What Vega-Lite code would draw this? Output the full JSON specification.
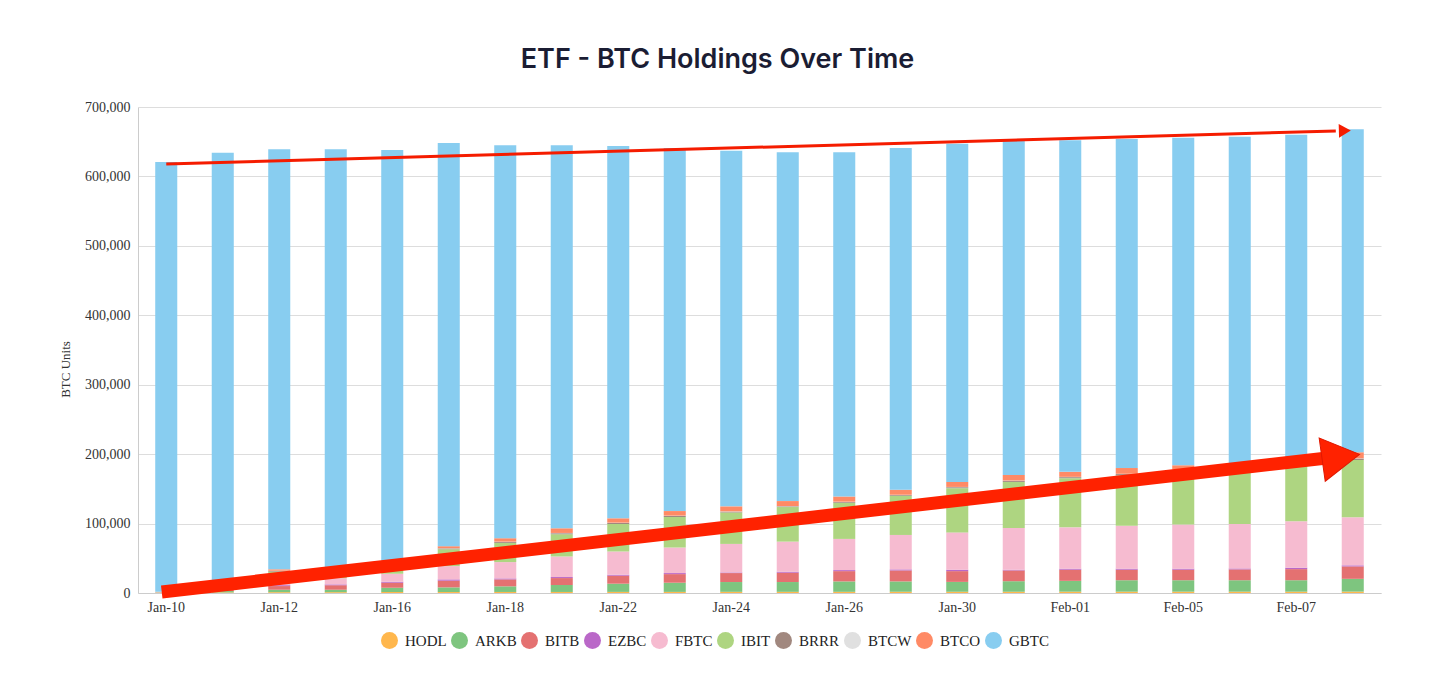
{
  "$schema": "https://vega.github.io/schema/vega-lite/v6.json",
  "width": 1243,
  "height": 486,
  "autosize": {"type": "none"},
  "padding": {"left": 138, "top": 107, "right": 75, "bottom": 98},
  "background": "white",
  "title": {
    "text": "ETF - BTC Holdings Over Time",
    "font": "Inter",
    "fontSize": 27,
    "fontWeight": 600,
    "color": "#1b1d33",
    "anchor": "middle",
    "frame": "group",
    "offset": 26,
    "dx": -42
  },
  "config": {
    "view": {"stroke": null},
    "axis": {
      "labelFont": "Liberation Serif",
      "labelFontSize": 14,
      "labelColor": "#333333",
      "titleFont": "Liberation Serif",
      "titleFontSize": 13,
      "titleFontWeight": "normal",
      "titleColor": "#333333",
      "ticks": false,
      "domainColor": "#cccccc",
      "gridColor": "#dddddd"
    },
    "axisY": {"labelExpr": "format(datum.value, ',')"}
  },
  "datasets": {
    "etfs": [
      {"etf": "HODL", "stack": 1}, {"etf": "ARKB", "stack": 2}, {"etf": "BITB", "stack": 3}, {"etf": "EZBC", "stack": 4}, {"etf": "FBTC", "stack": 5},
      {"etf": "IBIT", "stack": 6}, {"etf": "BRRR", "stack": 7}, {"etf": "BTCW", "stack": 8}, {"etf": "BTCO", "stack": 9}, {"etf": "GBTC", "stack": 10}
    ],
    "holdings": [
      {"date": "Jan-10", "etf": "HODL", "btc": 500}, {"date": "Jan-10", "etf": "ARKB", "btc": 300}, {"date": "Jan-10", "etf": "BITB", "btc": 200}, {"date": "Jan-10", "etf": "EZBC", "btc": 100}, {"date": "Jan-10", "etf": "FBTC", "btc": 200}, {"date": "Jan-10", "etf": "IBIT", "btc": 300}, {"date": "Jan-10", "etf": "BRRR", "btc": 50}, {"date": "Jan-10", "etf": "BTCW", "btc": 50}, {"date": "Jan-10", "etf": "BTCO", "btc": 100}, {"date": "Jan-10", "etf": "GBTC", "btc": 619000},
      {"date": "Jan-11", "etf": "HODL", "btc": 800}, {"date": "Jan-11", "etf": "ARKB", "btc": 2000}, {"date": "Jan-11", "etf": "BITB", "btc": 3000}, {"date": "Jan-11", "etf": "EZBC", "btc": 400}, {"date": "Jan-11", "etf": "FBTC", "btc": 3000}, {"date": "Jan-11", "etf": "IBIT", "btc": 8000}, {"date": "Jan-11", "etf": "BRRR", "btc": 300}, {"date": "Jan-11", "etf": "BTCW", "btc": 200}, {"date": "Jan-11", "etf": "BTCO", "btc": 600}, {"date": "Jan-11", "etf": "GBTC", "btc": 615700},
      {"date": "Jan-12", "etf": "HODL", "btc": 1200}, {"date": "Jan-12", "etf": "ARKB", "btc": 3500}, {"date": "Jan-12", "etf": "BITB", "btc": 5300}, {"date": "Jan-12", "etf": "EZBC", "btc": 1300}, {"date": "Jan-12", "etf": "FBTC", "btc": 5000}, {"date": "Jan-12", "etf": "IBIT", "btc": 14500}, {"date": "Jan-12", "etf": "BRRR", "btc": 1000}, {"date": "Jan-12", "etf": "BTCW", "btc": 300}, {"date": "Jan-12", "etf": "BTCO", "btc": 2000}, {"date": "Jan-12", "etf": "GBTC", "btc": 604900},
      {"date": "Jan-15", "etf": "HODL", "btc": 1200}, {"date": "Jan-15", "etf": "ARKB", "btc": 3500}, {"date": "Jan-15", "etf": "BITB", "btc": 6500}, {"date": "Jan-15", "etf": "EZBC", "btc": 1200}, {"date": "Jan-15", "etf": "FBTC", "btc": 9000}, {"date": "Jan-15", "etf": "IBIT", "btc": 13000}, {"date": "Jan-15", "etf": "BRRR", "btc": 500}, {"date": "Jan-15", "etf": "BTCW", "btc": 300}, {"date": "Jan-15", "etf": "BTCO", "btc": 1000}, {"date": "Jan-15", "etf": "GBTC", "btc": 602800},
      {"date": "Jan-16", "etf": "HODL", "btc": 1400}, {"date": "Jan-16", "etf": "ARKB", "btc": 6200}, {"date": "Jan-16", "etf": "BITB", "btc": 7200}, {"date": "Jan-16", "etf": "EZBC", "btc": 1500}, {"date": "Jan-16", "etf": "FBTC", "btc": 11400}, {"date": "Jan-16", "etf": "IBIT", "btc": 13900}, {"date": "Jan-16", "etf": "BRRR", "btc": 1400}, {"date": "Jan-16", "etf": "BTCW", "btc": 400}, {"date": "Jan-16", "etf": "BTCO", "btc": 3400}, {"date": "Jan-16", "etf": "GBTC", "btc": 591200},
      {"date": "Jan-17", "etf": "HODL", "btc": 1400}, {"date": "Jan-17", "etf": "ARKB", "btc": 6700}, {"date": "Jan-17", "etf": "BITB", "btc": 9600}, {"date": "Jan-17", "etf": "EZBC", "btc": 1900}, {"date": "Jan-17", "etf": "FBTC", "btc": 19100}, {"date": "Jan-17", "etf": "IBIT", "btc": 24300}, {"date": "Jan-17", "etf": "BRRR", "btc": 1200}, {"date": "Jan-17", "etf": "BTCW", "btc": 300}, {"date": "Jan-17", "etf": "BTCO", "btc": 2900}, {"date": "Jan-17", "etf": "GBTC", "btc": 580600},
      {"date": "Jan-18", "etf": "HODL", "btc": 1500}, {"date": "Jan-18", "etf": "ARKB", "btc": 8100}, {"date": "Jan-18", "etf": "BITB", "btc": 10000}, {"date": "Jan-18", "etf": "EZBC", "btc": 1400}, {"date": "Jan-18", "etf": "FBTC", "btc": 23500}, {"date": "Jan-18", "etf": "IBIT", "btc": 27700}, {"date": "Jan-18", "etf": "BRRR", "btc": 1500}, {"date": "Jan-18", "etf": "BTCW", "btc": 300}, {"date": "Jan-18", "etf": "BTCO", "btc": 4900}, {"date": "Jan-18", "etf": "GBTC", "btc": 566100},
      {"date": "Jan-19", "etf": "HODL", "btc": 1500}, {"date": "Jan-19", "etf": "ARKB", "btc": 10000}, {"date": "Jan-19", "etf": "BITB", "btc": 10000}, {"date": "Jan-19", "etf": "EZBC", "btc": 1500}, {"date": "Jan-19", "etf": "FBTC", "btc": 29600}, {"date": "Jan-19", "etf": "IBIT", "btc": 32000}, {"date": "Jan-19", "etf": "BRRR", "btc": 1500}, {"date": "Jan-19", "etf": "BTCW", "btc": 400}, {"date": "Jan-19", "etf": "BTCO", "btc": 6700}, {"date": "Jan-19", "etf": "GBTC", "btc": 551800},
      {"date": "Jan-22", "etf": "HODL", "btc": 1600}, {"date": "Jan-22", "etf": "ARKB", "btc": 11800}, {"date": "Jan-22", "etf": "BITB", "btc": 11500}, {"date": "Jan-22", "etf": "EZBC", "btc": 1400}, {"date": "Jan-22", "etf": "FBTC", "btc": 33500}, {"date": "Jan-22", "etf": "IBIT", "btc": 39600}, {"date": "Jan-22", "etf": "BRRR", "btc": 1500}, {"date": "Jan-22", "etf": "BTCW", "btc": 400}, {"date": "Jan-22", "etf": "BTCO", "btc": 6300}, {"date": "Jan-22", "etf": "GBTC", "btc": 536400},
      {"date": "Jan-23", "etf": "HODL", "btc": 1600}, {"date": "Jan-23", "etf": "ARKB", "btc": 13200}, {"date": "Jan-23", "etf": "BITB", "btc": 12400}, {"date": "Jan-23", "etf": "EZBC", "btc": 1500}, {"date": "Jan-23", "etf": "FBTC", "btc": 36800}, {"date": "Jan-23", "etf": "IBIT", "btc": 44000}, {"date": "Jan-23", "etf": "BRRR", "btc": 1500}, {"date": "Jan-23", "etf": "BTCW", "btc": 400}, {"date": "Jan-23", "etf": "BTCO", "btc": 6600}, {"date": "Jan-23", "etf": "GBTC", "btc": 523000},
      {"date": "Jan-24", "etf": "HODL", "btc": 1700}, {"date": "Jan-24", "etf": "ARKB", "btc": 14100}, {"date": "Jan-24", "etf": "BITB", "btc": 12900}, {"date": "Jan-24", "etf": "EZBC", "btc": 900}, {"date": "Jan-24", "etf": "FBTC", "btc": 41100}, {"date": "Jan-24", "etf": "IBIT", "btc": 45300}, {"date": "Jan-24", "etf": "BRRR", "btc": 1200}, {"date": "Jan-24", "etf": "BTCW", "btc": 400}, {"date": "Jan-24", "etf": "BTCO", "btc": 7200}, {"date": "Jan-24", "etf": "GBTC", "btc": 512200},
      {"date": "Jan-25", "etf": "HODL", "btc": 1700}, {"date": "Jan-25", "etf": "ARKB", "btc": 14100}, {"date": "Jan-25", "etf": "BITB", "btc": 13400}, {"date": "Jan-25", "etf": "EZBC", "btc": 1400}, {"date": "Jan-25", "etf": "FBTC", "btc": 43400}, {"date": "Jan-25", "etf": "IBIT", "btc": 49800}, {"date": "Jan-25", "etf": "BRRR", "btc": 1000}, {"date": "Jan-25", "etf": "BTCW", "btc": 400}, {"date": "Jan-25", "etf": "BTCO", "btc": 7200}, {"date": "Jan-25", "etf": "GBTC", "btc": 502600},
      {"date": "Jan-26", "etf": "HODL", "btc": 1700}, {"date": "Jan-26", "etf": "ARKB", "btc": 15000}, {"date": "Jan-26", "etf": "BITB", "btc": 14800}, {"date": "Jan-26", "etf": "EZBC", "btc": 1500}, {"date": "Jan-26", "etf": "FBTC", "btc": 44900}, {"date": "Jan-26", "etf": "IBIT", "btc": 52100}, {"date": "Jan-26", "etf": "BRRR", "btc": 1100}, {"date": "Jan-26", "etf": "BTCW", "btc": 400}, {"date": "Jan-26", "etf": "BTCO", "btc": 7500}, {"date": "Jan-26", "etf": "GBTC", "btc": 496000},
      {"date": "Jan-29", "etf": "HODL", "btc": 1800}, {"date": "Jan-29", "etf": "ARKB", "btc": 14900}, {"date": "Jan-29", "etf": "BITB", "btc": 15800}, {"date": "Jan-29", "etf": "EZBC", "btc": 1500}, {"date": "Jan-29", "etf": "FBTC", "btc": 49600}, {"date": "Jan-29", "etf": "IBIT", "btc": 56400}, {"date": "Jan-29", "etf": "BRRR", "btc": 1100}, {"date": "Jan-29", "etf": "BTCW", "btc": 400}, {"date": "Jan-29", "etf": "BTCO", "btc": 7200}, {"date": "Jan-29", "etf": "GBTC", "btc": 492300},
      {"date": "Jan-30", "etf": "HODL", "btc": 1800}, {"date": "Jan-30", "etf": "ARKB", "btc": 14200}, {"date": "Jan-30", "etf": "BITB", "btc": 15500}, {"date": "Jan-30", "etf": "EZBC", "btc": 2000}, {"date": "Jan-30", "etf": "FBTC", "btc": 53800}, {"date": "Jan-30", "etf": "IBIT", "btc": 63700}, {"date": "Jan-30", "etf": "BRRR", "btc": 1400}, {"date": "Jan-30", "etf": "BTCW", "btc": 400}, {"date": "Jan-30", "etf": "BTCO", "btc": 7200}, {"date": "Jan-30", "etf": "GBTC", "btc": 487000},
      {"date": "Jan-31", "etf": "HODL", "btc": 1800}, {"date": "Jan-31", "etf": "ARKB", "btc": 15200}, {"date": "Jan-31", "etf": "BITB", "btc": 15500}, {"date": "Jan-31", "etf": "EZBC", "btc": 1000}, {"date": "Jan-31", "etf": "FBTC", "btc": 60100}, {"date": "Jan-31", "etf": "IBIT", "btc": 66400}, {"date": "Jan-31", "etf": "BRRR", "btc": 1600}, {"date": "Jan-31", "etf": "BTCW", "btc": 400}, {"date": "Jan-31", "etf": "BTCO", "btc": 8000}, {"date": "Jan-31", "etf": "GBTC", "btc": 481000},
      {"date": "Feb-01", "etf": "HODL", "btc": 1900}, {"date": "Feb-01", "etf": "ARKB", "btc": 15600}, {"date": "Feb-01", "etf": "BITB", "btc": 16000}, {"date": "Feb-01", "etf": "EZBC", "btc": 1500}, {"date": "Feb-01", "etf": "FBTC", "btc": 59600}, {"date": "Feb-01", "etf": "IBIT", "btc": 70800}, {"date": "Feb-01", "etf": "BRRR", "btc": 1500}, {"date": "Feb-01", "etf": "BTCW", "btc": 400}, {"date": "Feb-01", "etf": "BTCO", "btc": 7300}, {"date": "Feb-01", "etf": "GBTC", "btc": 477400},
      {"date": "Feb-02", "etf": "HODL", "btc": 1900}, {"date": "Feb-02", "etf": "ARKB", "btc": 16500}, {"date": "Feb-02", "etf": "BITB", "btc": 15100}, {"date": "Feb-02", "etf": "EZBC", "btc": 1500}, {"date": "Feb-02", "etf": "FBTC", "btc": 62000}, {"date": "Feb-02", "etf": "IBIT", "btc": 72300}, {"date": "Feb-02", "etf": "BRRR", "btc": 2000}, {"date": "Feb-02", "etf": "BTCW", "btc": 400}, {"date": "Feb-02", "etf": "BTCO", "btc": 8300}, {"date": "Feb-02", "etf": "GBTC", "btc": 474000},
      {"date": "Feb-05", "etf": "HODL", "btc": 1900}, {"date": "Feb-05", "etf": "ARKB", "btc": 16500}, {"date": "Feb-05", "etf": "BITB", "btc": 15100}, {"date": "Feb-05", "etf": "EZBC", "btc": 1500}, {"date": "Feb-05", "etf": "FBTC", "btc": 63500}, {"date": "Feb-05", "etf": "IBIT", "btc": 77500}, {"date": "Feb-05", "etf": "BRRR", "btc": 1600}, {"date": "Feb-05", "etf": "BTCW", "btc": 400}, {"date": "Feb-05", "etf": "BTCO", "btc": 6000}, {"date": "Feb-05", "etf": "GBTC", "btc": 471600},
      {"date": "Feb-06", "etf": "HODL", "btc": 1900}, {"date": "Feb-06", "etf": "ARKB", "btc": 16500}, {"date": "Feb-06", "etf": "BITB", "btc": 15600}, {"date": "Feb-06", "etf": "EZBC", "btc": 1400}, {"date": "Feb-06", "etf": "FBTC", "btc": 64000}, {"date": "Feb-06", "etf": "IBIT", "btc": 80100}, {"date": "Feb-06", "etf": "BRRR", "btc": 1600}, {"date": "Feb-06", "etf": "BTCW", "btc": 400}, {"date": "Feb-06", "etf": "BTCO", "btc": 5200}, {"date": "Feb-06", "etf": "GBTC", "btc": 470300},
      {"date": "Feb-07", "etf": "HODL", "btc": 1900}, {"date": "Feb-07", "etf": "ARKB", "btc": 16500}, {"date": "Feb-07", "etf": "BITB", "btc": 16000}, {"date": "Feb-07", "etf": "EZBC", "btc": 2000}, {"date": "Feb-07", "etf": "FBTC", "btc": 66900}, {"date": "Feb-07", "etf": "IBIT", "btc": 79700}, {"date": "Feb-07", "etf": "BRRR", "btc": 1600}, {"date": "Feb-07", "etf": "BTCW", "btc": 400}, {"date": "Feb-07", "etf": "BTCO", "btc": 8000}, {"date": "Feb-07", "etf": "GBTC", "btc": 467000},
      {"date": "Feb-08", "etf": "HODL", "btc": 2000}, {"date": "Feb-08", "etf": "ARKB", "btc": 18400}, {"date": "Feb-08", "etf": "BITB", "btc": 17900}, {"date": "Feb-08", "etf": "EZBC", "btc": 1500}, {"date": "Feb-08", "etf": "FBTC", "btc": 69200}, {"date": "Feb-08", "etf": "IBIT", "btc": 82600}, {"date": "Feb-08", "etf": "BRRR", "btc": 2000}, {"date": "Feb-08", "etf": "BTCW", "btc": 400}, {"date": "Feb-08", "etf": "BTCO", "btc": 8700}, {"date": "Feb-08", "etf": "GBTC", "btc": 465300}
    ]
  },
  "layer": [
    {
      "data": {"name": "holdings"},
      "transform": [
        {"lookup": "etf", "from": {"data": {"name": "etfs"}, "key": "etf", "fields": ["stack"]}}
      ],
      "mark": {"type": "bar"},
      "encoding": {
        "x": {
          "field": "date",
          "type": "ordinal",
          "sort": null,
          "scale": {"paddingInner": 0.61, "paddingOuter": 0.305},
          "axis": {
            "title": null,
            "labelAngle": 0,
            "labelPadding": 7,
            "values": ["Jan-10", "Jan-12", "Jan-16", "Jan-18", "Jan-22", "Jan-24", "Jan-26", "Jan-30", "Feb-01", "Feb-05", "Feb-07"]
          }
        },
        "y": {
          "field": "btc",
          "type": "quantitative",
          "stack": "zero",
          "scale": {"domain": [0, 700000], "nice": false},
          "axis": {
            "title": "BTC Units",
            "values": [0, 100000, 200000, 300000, 400000, 500000, 600000, 700000],
            "labelPadding": 8,
            "titleX": -66,
            "titleY": 262
          }
        },
        "color": {
          "field": "etf",
          "type": "nominal",
          "scale": {
            "domain": ["HODL", "ARKB", "BITB", "EZBC", "FBTC", "IBIT", "BRRR", "BTCW", "BTCO", "GBTC"],
            "range": ["#ffb74d", "#7ec57f", "#e47171", "#ba68c8", "#f6bbd0", "#aed581", "#a1887f", "#e0e0e0", "#ff8a65", "#88cdf0"]
          },
          "legend": {
            "title": null,
            "orient": "none",
            "legendX": 243,
            "legendY": 525,
            "direction": "horizontal",
            "columns": 10,
            "symbolType": "circle",
            "symbolSize": 289,
            "symbolStrokeWidth": 0,
            "symbolOpacity": 1,
            "labelFont": "Liberation Serif",
            "labelFontSize": 15,
            "labelColor": "#222222",
            "labelOffset": 7,
            "columnPadding": 4
          }
        },
        "order": {"field": "stack", "type": "quantitative", "sort": "ascending"}
      }
    },
    {
      "data": {"values": [{"pos": 0.5, "btc": 617900}, {"pos": 21.2, "btc": 665500}]},
      "mark": {"type": "line", "color": "#f51c00", "strokeWidth": 3, "clip": false},
      "encoding": {
        "x": {"field": "pos", "type": "quantitative", "scale": {"domain": [0, 22], "nice": false, "zero": false}, "axis": null},
        "y": {"field": "btc", "type": "quantitative"}
      }
    },
    {
      "data": {"values": [{"pos": 21.36, "btc": 665900}]},
      "mark": {"type": "point", "shape": "triangle-right", "size": 190, "angle": 358.5, "filled": true, "opacity": 1, "color": "#f51c00"},
      "encoding": {
        "x": {"field": "pos", "type": "quantitative", "scale": {"domain": [0, 22], "nice": false, "zero": false}, "axis": null},
        "y": {"field": "btc", "type": "quantitative"}
      }
    },
    {
      "data": {"values": [{"pos": 0.42, "btc": 1400}, {"pos": 21.2, "btc": 196000}]},
      "mark": {"type": "line", "color": "#ff2200", "strokeWidth": 13, "clip": false},
      "encoding": {
        "x": {"field": "pos", "type": "quantitative", "scale": {"domain": [0, 22], "nice": false, "zero": false}, "axis": null},
        "y": {"field": "btc", "type": "quantitative"}
      }
    },
    {
      "data": {"values": [{"pos": 21.29, "btc": 195900}]},
      "mark": {"type": "point", "shape": "triangle-right", "size": 1900, "angle": 352, "filled": true, "opacity": 1, "color": "#ff2200", "stroke": "#e01800", "strokeWidth": 1},
      "encoding": {
        "x": {"field": "pos", "type": "quantitative", "scale": {"domain": [0, 22], "nice": false, "zero": false}, "axis": null},
        "y": {"field": "btc", "type": "quantitative"}
      }
    }
  ],
  "resolve": {"scale": {"x": "independent"}}
}
